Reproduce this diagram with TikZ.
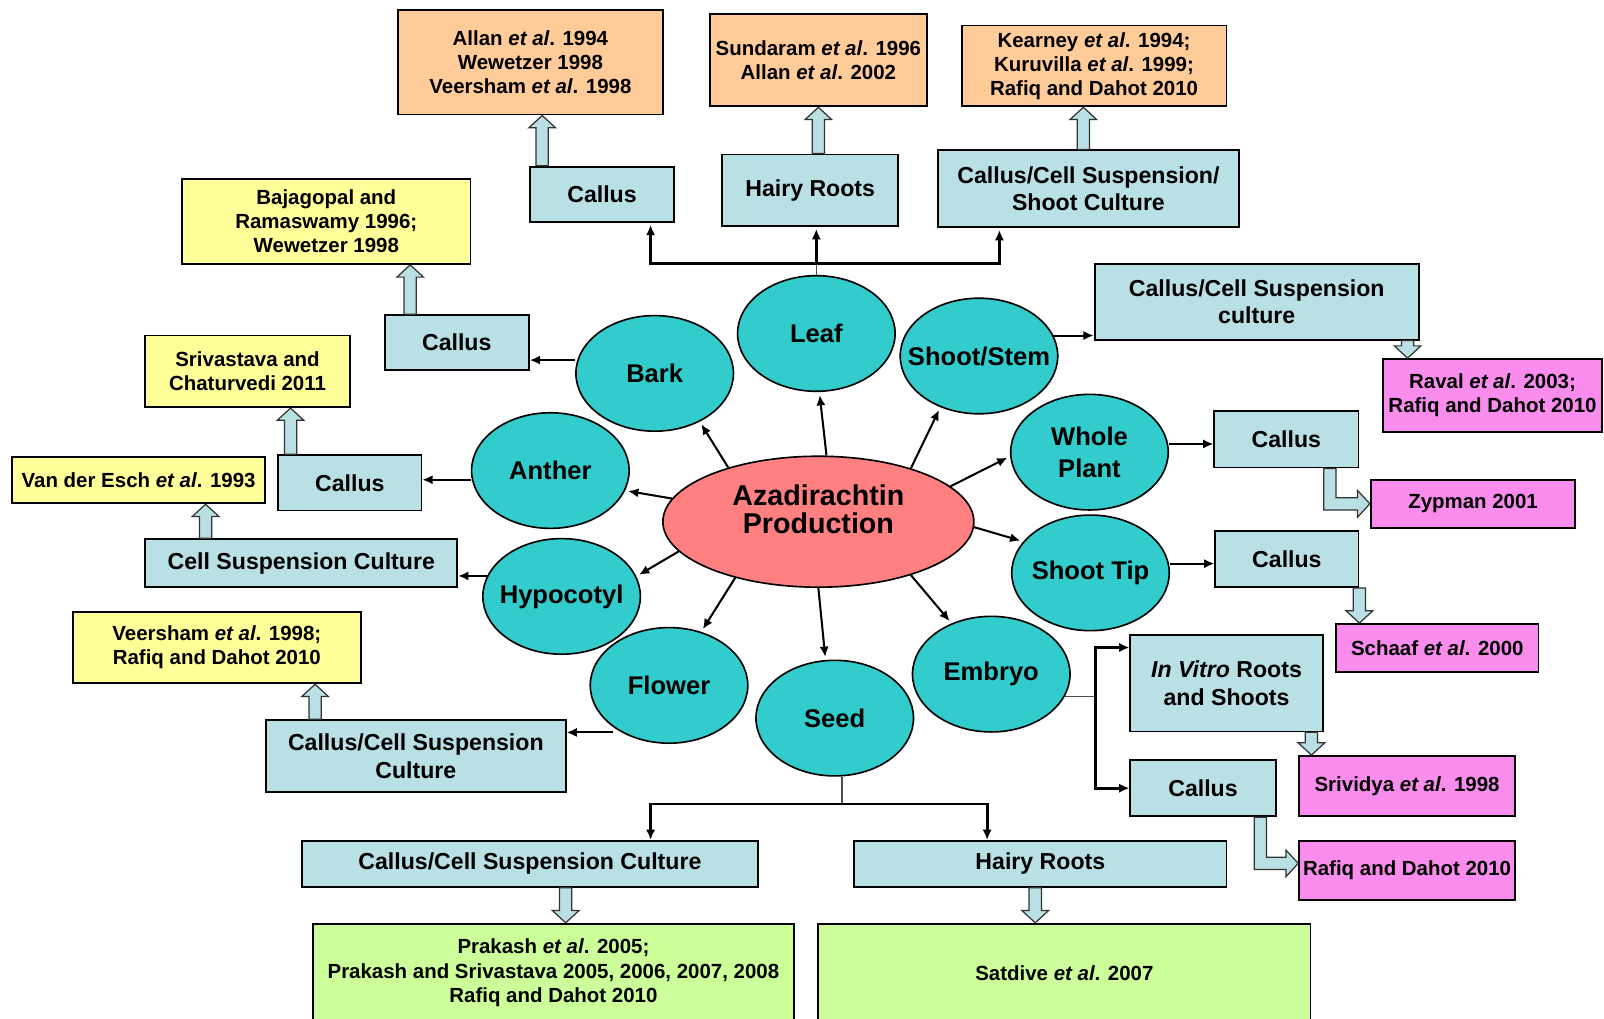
\documentclass[tikz,border=0pt]{standalone}
\usepackage{fontspec}
\setmainfont{Liberation Sans}
\usetikzlibrary{calc,arrows.meta,shapes.geometric}

\definecolor{partcol}{RGB}{51,204,204}
\definecolor{prodcol}{RGB}{255,128,128}
\definecolor{cultcol}{RGB}{185,224,228}
\definecolor{refor}{RGB}{255,204,153}
\definecolor{refyel}{RGB}{255,255,153}
\definecolor{refpink}{RGB}{250,140,238}
\definecolor{refgreen}{RGB}{204,255,153}

\tikzset{
  hollow/.style={draw=black!80, fill=cultcol, line width=0.6pt,
    to path={($(\tikztostart)!3pt!90:(\tikztotarget)$)
      -- ($(\tikztotarget)!6pt!(\tikztostart)!3pt!90:(\tikztotarget)$)
      -- ($(\tikztotarget)!6pt!(\tikztostart)!6.5pt!90:(\tikztotarget)$)
      -- (\tikztotarget)
      -- ($(\tikztotarget)!6pt!(\tikztostart)!6.5pt!-90:(\tikztotarget)$)
      -- ($(\tikztotarget)!6pt!(\tikztostart)!3pt!-90:(\tikztotarget)$)
      -- ($(\tikztostart)!3pt!-90:(\tikztotarget)$) -- cycle}},
  hollow elbow/.style={draw=black!80, fill=cultcol, line width=0.6pt,
    to path={let \p1=(\tikztostart), \p2=(\tikztotarget) in
      (\x1-3pt,\y1) -- (\x1-3pt,\y2-3pt) -- (\x2-6pt,\y2-3pt) -- (\x2-6pt,\y2-6.5pt)
      -- (\x2,\y2) -- (\x2-6pt,\y2+6.5pt) -- (\x2-6pt,\y2+3pt) -- (\x1+3pt,\y2+3pt)
      -- (\x1+3pt,\y1) -- cycle}}
}

\begin{document}
\begin{tikzpicture}[x=0.5pt,y=-0.5pt,>={Latex[length=5pt,width=4.5pt]},
    link/.style={line width=1pt},
    tree/.style={line width=1.4pt},
    stub/.style={line width=0.7pt,black!70}]

      \useasboundingbox (0,0) rectangle (1568,996);

      \begin{scope}[every node/.style={ellipse,draw,line width=0.8pt,fill=partcol,inner xsep=-10pt,inner ysep=0pt,
          minimum width=77pt,minimum height=56.5pt,align=center,font=\fontsize{12.5}{15.5}\selectfont\bfseries}]
        \node (leaf)   at (798,326)  {Leaf};
        \node (bark)   at (640,365)  {Bark};
        \node (stem)   at (957,348)  {Shoot/Stem};
        \node (anther) at (538,460)  {Anther};
        \node (wp)     at (1065,442) {Whole\\Plant};
        \node (hypo)   at (549,583)  {Hypocotyl};
        \node (stip)   at (1066,560) {Shoot Tip};
        \node (flower) at (654,670)  {Flower};
        \node (seed)   at (816,702)  {Seed};
        \node (embryo) at (969,659)  {Embryo};
      \end{scope}

      \node[ellipse,draw,line width=0.8pt,fill=prodcol,inner sep=0pt,minimum width=152pt,
        minimum height=64pt,align=center,text depth=12.5pt,font=\fontsize{14}{13.5}\selectfont\bfseries] (az) at (800,510)
        {Azadirachtin\\Production};

      \begin{scope}[every node/.style={draw,line width=0.9pt,fill=cultcol,inner sep=0pt,align=center,
          font=\fontsize{11.3}{13.5}\selectfont\bfseries}]
        \node[minimum width=70.5pt,minimum height=27pt]   (calA)  at (588.5,190)  {Callus};
        \node[minimum width=86pt,minimum height=35pt]     (hairA) at (792,186)    {Hairy Roots};
        \node[minimum width=147pt,minimum height=37.5pt]  (ccsA)  at (1064,184.5) {Callus/Cell Suspension/\\Shoot Culture};
        \node[minimum width=70.5pt,minimum height=27pt]   (calB)  at (446.5,335)  {Callus};
        \node[minimum width=70pt,minimum height=27pt]     (calC)  at (342,472)    {Callus};
        \node[minimum width=152.5pt,minimum height=23.5pt] (csc)  at (294.5,550.5) {Cell Suspension Culture};
        \node[minimum width=146.5pt,minimum height=35pt]  (ccsF)  at (406.5,739)  {Callus/Cell Suspension\\Culture};
        \node[minimum width=158.5pt,minimum height=37pt]  (ccsR)  at (1228.5,295) {Callus/Cell Suspension\\culture};
        \node[minimum width=70.5pt,minimum height=27.5pt] (calW)  at (1257.5,429.5) {Callus};
        \node[minimum width=70pt,minimum height=27.5pt]   (calS)  at (1258,546.5) {Callus};
        \node[minimum width=94pt,minimum height=47pt]     (ivr)   at (1199,668)   {\textit{In Vitro} Roots\\and Shoots};
        \node[minimum width=71pt,minimum height=27.5pt]   (calE)  at (1176,770.5) {Callus};
        \node[minimum width=223pt,minimum height=22.5pt]  (ccsB)  at (518,844.5)  {Callus/Cell Suspension Culture};
        \node[minimum width=182pt,minimum height=22.5pt]  (hairB) at (1017,844.5) {Hairy Roots};
      \end{scope}

      \begin{scope}[every node/.style={draw,line width=0.9pt,inner sep=0pt,align=center,
          font=\fontsize{10}{11.8}\selectfont\bfseries}]
        \node[fill=refor,minimum width=129.5pt,minimum height=51pt]   (allan)  at (518.5,61)  {Allan \textit{et al}. 1994\\Wewetzer 1998\\Veersham \textit{et al}. 1998};
        \node[fill=refor,minimum width=106pt,minimum height=45pt]     (sund)   at (800,59)    {Sundaram \textit{et al}. 1996\\Allan \textit{et al}. 2002};
        \node[fill=refor,minimum width=129.5pt,minimum height=39.5pt] (kear)   at (1069.5,64.5) {Kearney \textit{et al}. 1994;\\Kuruvilla \textit{et al}. 1999;\\Rafiq and Dahot 2010};
        \node[fill=refyel,minimum width=141pt,minimum height=41.5pt]  (bajag)  at (319,216.5) {Bajagopal and\\Ramaswamy 1996;\\Wewetzer 1998};
        \node[fill=refyel,minimum width=100pt,minimum height=35pt]    (sriv)   at (242,363)   {Srivastava and\\Chaturvedi 2011};
        \node[fill=refyel,minimum width=123.5pt,minimum height=22.5pt] (vande) at (135.5,469.5) {Van der Esch \textit{et al}. 1993};
        \node[fill=refyel,minimum width=141pt,minimum height=35pt]    (veer)   at (212,633)   {Veersham \textit{et al}. 1998;\\Rafiq and Dahot 2010};
        \node[fill=refpink,minimum width=107pt,minimum height=35.5pt] (raval)  at (1459,386.5) {Raval \textit{et al}. 2003;\\Rafiq and Dahot 2010};
        \node[fill=refpink,minimum width=100pt,minimum height=23.5pt] (zyp)    at (1440,492.5) {Zypman 2001};
        \node[fill=refpink,minimum width=99pt,minimum height=23.5pt]  (schaaf) at (1405,633.5) {Schaaf \textit{et al}. 2000};
        \node[fill=refpink,minimum width=105.5pt,minimum height=29.5pt] (srid) at (1375.5,768.5) {Srividya \textit{et al}. 1998};
        \node[fill=refpink,minimum width=105.5pt,minimum height=29pt] (rafE)   at (1375.5,851) {Rafiq and Dahot 2010};
        \node[fill=refgreen,minimum width=235pt,minimum height=48pt]  (prak)   at (541,951)   {Prakash \textit{et al}. 2005;\\Prakash and Srivastava 2005, 2006, 2007, 2008\\Rafiq and Dahot 2010};
        \node[fill=refgreen,minimum width=240.5pt,minimum height=48pt] (satd)  at (1040.5,951) {Satdive \textit{et al}. 2007};
      \end{scope}

      \begin{scope}[every edge/.style={draw,link,->,shorten >=1.5pt}]
        \path (az.83)  edge (leaf.-87);
        \path (az.149) edge (bark.-47);
        \path (az.30)  edge (stem.233);
        \path (az.171) edge (anther.-15);
        \path (az.15)  edge (wp.183);
        \path (az.192) edge (hypo.15);
        \path (az.-2)  edge (stip.155);
        \path (az.214) edge (flower.59);
        \path (az.-90) edge (seed.99);
        \path (az.-30) edge (embryo.128);
      \end{scope}

      \draw[link,->] ([yshift=6.5pt]bark.west) -- (calB.east |- 0,352);
      \draw[link,->] ([yshift=-4.5pt]anther.west) -- (calC.east |- 0,469);
      \draw[link,->] ([xshift=2.5pt,yshift=10pt]hypo.west) -- (csc.east |- 0,563);
      \draw[link,->] ([xshift=11.5pt,yshift=-23pt]flower.west) -- (ccsF.east |- 0,716);
      \draw[link,->] ([xshift=-2.5pt,yshift=10pt]stem.east) -- (ccsR.west |- 0,328);
      \draw[link,->] ([yshift=4pt]wp.east) -- (calW.west |- 0,434);
      \draw[link,->] ([yshift=4.5pt]stip.east) -- (calS.west |- 0,551);

      \coordinate (lj) at (798,258);
      \draw[stub] (leaf.north) -- (lj);
      \draw[tree,->,shorten >=1pt] (lj) -| (calA.south -| 636,0);
      \draw[tree,->,shorten >=1pt] (lj) -- (hairA.south -| lj);
      \draw[tree,->,shorten >=1pt] (lj) -| (ccsA.south -| 977,0);

      \coordinate (sj) at (823,786);
      \draw[stub] (seed.south -| sj) -- (sj);
      \draw[tree,->] (sj) -| (ccsB.north -| 636,0);
      \draw[tree,->] (sj) -| (hairB.north -| 965,0);

      \coordinate (ej) at (1071,681);
      \draw[stub,shorten >=-3pt] (ej) -- (ej -| embryo.east);
      \draw[tree,->] (ej) |- (ivr.west |- 0,633);
      \draw[tree,->] (ej) |- (calE.west);

      \path[hollow] (calA.north -| 530,0) to (allan.south -| 530,0);
      \path[hollow] (hairA.north -| 800,0) to (sund.south -| 800,0);
      \path[hollow] (ccsA.north -| 1059,0) to (kear.south -| 1059,0);
      \path[hollow] (calB.north -| 401,0) to (bajag.south -| 401,0);
      \path[hollow] (calC.north -| 284,0) to (sriv.south -| 284,0);
      \path[hollow] (csc.north -| 201,0) to (vande.south -| 201,0);
      \path[hollow] (ccsF.north -| 308,0) to (veer.south -| 308,0);
      \path[hollow] (ccsR.south -| 1376,0) to (raval.north -| 1376,0);
      \path[hollow] (calS.south east) to (schaaf.north -| calS.east);
      \path[hollow] (ivr.south -| 1282,0) to (srid.north -| 1282,0);
      \path[hollow] (ccsB.south -| 553,0) to (prak.north -| 553,0);
      \path[hollow] (hairB.south -| 1012,0) to (satd.north -| 1012,0);
      \path[hollow elbow] (calW.south -| 1300,0) to (zyp.west);
      \path[hollow elbow] (calE.south -| 1232,0) to (rafE.west |- 0,844);

    \end{tikzpicture}
\end{document}
